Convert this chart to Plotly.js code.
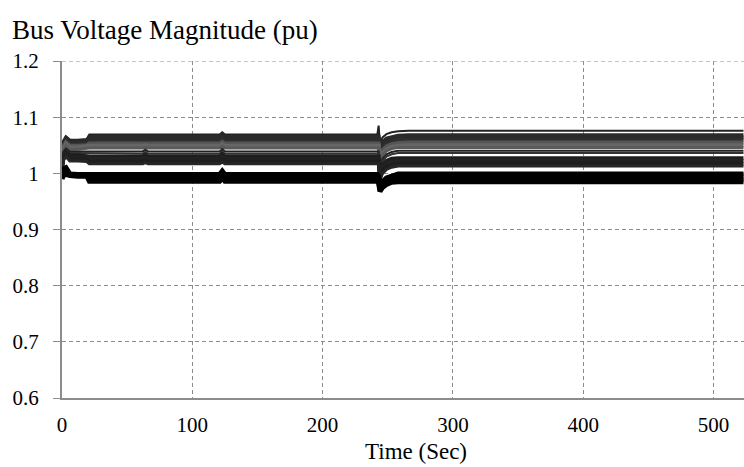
<!DOCTYPE html>
<html>
<head>
<meta charset="utf-8">
<script src="https://cdn.plot.ly/plotly-3.0.1.min.js"></script>
<style>html,body{margin:0;padding:0;background:#fff;}#chart{width:744px;height:467px;}</style>
</head>
<body>
<div id="chart"></div>
<script>
// Time samples (s)
const time = [0, 1, 3, 6, 12, 19, 21, 62, 64, 66, 121, 123, 125, 242, 243, 244, 246, 249, 253, 258, 266, 523];

// Bus voltage magnitudes (pu), one array per bus
const bus01 = [1.040,1.058,1.066,1.060,1.060,1.061,1.069,1.069,1.070,1.069,1.069,1.073,1.069,1.069,1.085,1.052,1.064,1.070,1.073,1.075,1.076,1.076];
const bus02 = [1.035,1.055,1.063,1.057,1.057,1.058,1.065,1.065,1.066,1.065,1.065,1.069,1.065,1.065,1.065,1.042,1.055,1.062,1.065,1.067,1.068,1.068];
const bus03 = [1.030,1.052,1.060,1.054,1.054,1.055,1.061,1.061,1.062,1.061,1.061,1.065,1.061,1.061,1.061,1.037,1.050,1.057,1.061,1.063,1.064,1.064];
const bus04 = [1.028,1.050,1.058,1.052,1.052,1.053,1.057,1.057,1.058,1.057,1.057,1.061,1.057,1.057,1.057,1.032,1.046,1.053,1.057,1.059,1.060,1.060];
const bus05 = [1.025,1.047,1.055,1.049,1.049,1.050,1.053,1.053,1.054,1.053,1.053,1.056,1.053,1.053,1.053,1.027,1.041,1.048,1.052,1.054,1.055,1.055];
const bus06 = [1.022,1.044,1.052,1.046,1.046,1.047,1.049,1.049,1.050,1.049,1.049,1.052,1.049,1.049,1.049,1.021,1.036,1.043,1.047,1.049,1.050,1.050];
const bus07 = [1.020,1.041,1.049,1.043,1.043,1.044,1.045,1.045,1.046,1.045,1.045,1.048,1.045,1.045,1.045,1.016,1.032,1.040,1.044,1.046,1.046,1.046];
const bus08 = [1.018,1.038,1.044,1.039,1.039,1.039,1.039,1.039,1.042,1.039,1.039,1.043,1.039,1.039,1.039,1.010,1.026,1.034,1.038,1.040,1.040,1.040];
const bus09 = [1.015,1.035,1.041,1.036,1.036,1.036,1.035,1.035,1.038,1.035,1.035,1.039,1.035,1.035,1.035,1.006,1.022,1.030,1.034,1.036,1.036,1.036];
const bus10 = [1.012,1.032,1.038,1.032,1.032,1.031,1.030,1.030,1.033,1.030,1.030,1.034,1.030,1.030,1.030,1.000,1.015,1.022,1.026,1.027,1.027,1.027];
const bus11 = [1.010,1.029,1.035,1.028,1.028,1.027,1.026,1.026,1.028,1.026,1.026,1.029,1.026,1.026,1.026,0.996,1.010,1.017,1.021,1.022,1.022,1.022];
const bus12 = [1.008,1.026,1.032,1.025,1.025,1.024,1.021,1.021,1.023,1.021,1.021,1.024,1.021,1.021,1.021,0.992,1.005,1.012,1.016,1.017,1.017,1.017];
const bus13 = [1.005,1.023,1.030,1.022,1.022,1.021,1.017,1.017,1.019,1.017,1.017,1.020,1.017,1.017,1.017,0.988,1.000,1.007,1.011,1.013,1.013,1.013];
const bus14 = [1.000,1.008,1.010,0.999,0.998,0.998,0.998,0.998,0.999,0.998,0.998,1.004,0.998,0.998,0.995,0.975,0.985,0.992,0.996,0.999,0.999,0.999];
const bus15 = [0.995,1.004,1.006,0.998,0.997,0.997,0.994,0.994,0.995,0.994,0.994,1.000,0.994,0.994,0.991,0.972,0.981,0.988,0.992,0.994,0.994,0.994];
const bus16 = [0.992,1.000,1.002,0.997,0.996,0.996,0.990,0.990,0.991,0.990,0.990,0.996,0.990,0.990,0.987,0.970,0.978,0.984,0.988,0.989,0.989,0.989];
const bus17 = [0.990,0.996,0.998,0.996,0.995,0.995,0.986,0.986,0.987,0.986,0.986,0.992,0.986,0.986,0.983,0.968,0.975,0.980,0.984,0.985,0.985,0.985];

const xTickVals = [0, 100, 200, 300, 400, 500];
const xTickText = ["0", "100", "200", "300", "400", "500"];
const yTickVals = [0.6, 0.7, 0.8, 0.9, 1.0, 1.1, 1.2];
const yTickText = ["0.6", "0.7", "0.8", "0.9", "1", "1.1", "1.2"];

const series = [bus01,bus02,bus03,bus04,bus05,bus06,bus07,bus08,bus09,bus10,bus11,bus12,bus13,bus14,bus15,bus16,bus17];
const colors = ["#222222","#2a2a2a","#2a2a2a","#2e2e2e","#555555","#666666","#5a5a5a","#222222","#333333","#1e1e1e","#222222","#1e1e1e","#262626","#000000","#000000","#000000","#000000"];
const widths = [2,4,4,4,4,4,3,2,2,4,4,4,3,5,5,5,5];

const traces = series.map((ys, i) => ({
  x: time, y: ys, type: 'scatter', mode: 'lines',
  line: {color: colors[i], width: widths[i]},
  hoverinfo: 'skip', showlegend: false
}));

const font = "Liberation Serif, Times New Roman, serif";
const gridColor = "#8c8c8c";

const layout = {
  width: 744, height: 467,
  margin: {l: 62, r: 0, t: 61, b: 69, pad: 0},
  paper_bgcolor: '#fff', plot_bgcolor: '#fff',
  font: {family: font, color: '#000', size: 22},
  title: {text: 'Bus Voltage Magnitude (pu)', x: 12/744, xanchor: 'left', xref: 'container',
          y: 1 - 30/467, yref: 'container', yanchor: 'middle', font: {family: font, size: 27, color: '#000'}},
  xaxis: {range: [0, 523.4], tickvals: xTickVals, ticktext: xTickText, showgrid: true,
          gridcolor: gridColor, griddash: '4px,3px', gridwidth: 1, zeroline: false,
          showline: true, linecolor: gridColor, linewidth: 2, ticks: '', ticklabelstandoff: 7,
          tickfont: {family: font, size: 21, color: '#000'}},
  yaxis: {range: [0.6, 1.2], tickvals: yTickVals, ticktext: yTickText, showgrid: true,
          gridcolor: gridColor, griddash: '4px,3px', gridwidth: 1, zeroline: false,
          showline: true, linecolor: gridColor, linewidth: 2, ticks: 'outside', ticklen: 7,
          ticklabelstandoff: 10,
          tickcolor: gridColor, tickwidth: 1, tickfont: {family: font, size: 21, color: '#000'}},
  annotations: [{text: 'Time (Sec)', xref: 'paper', yref: 'paper', x: (416-62)/682, y: -(452-398)/337.3,
                 xanchor: 'center', yanchor: 'middle', showarrow: false, font: {family: font, size: 23, color: '#000'}}],
  shapes: [{type: 'line', xref: 'paper', yref: 'y', x0: 0, x1: 1, y0: 1.2, y1: 1.2,
            line: {color: gridColor, width: 1, dash: '4px,3px'}, layer: 'below'}]
};

Plotly.newPlot('chart', traces, layout, {displayModeBar: false, staticPlot: true});
</script>
</body>
</html>
